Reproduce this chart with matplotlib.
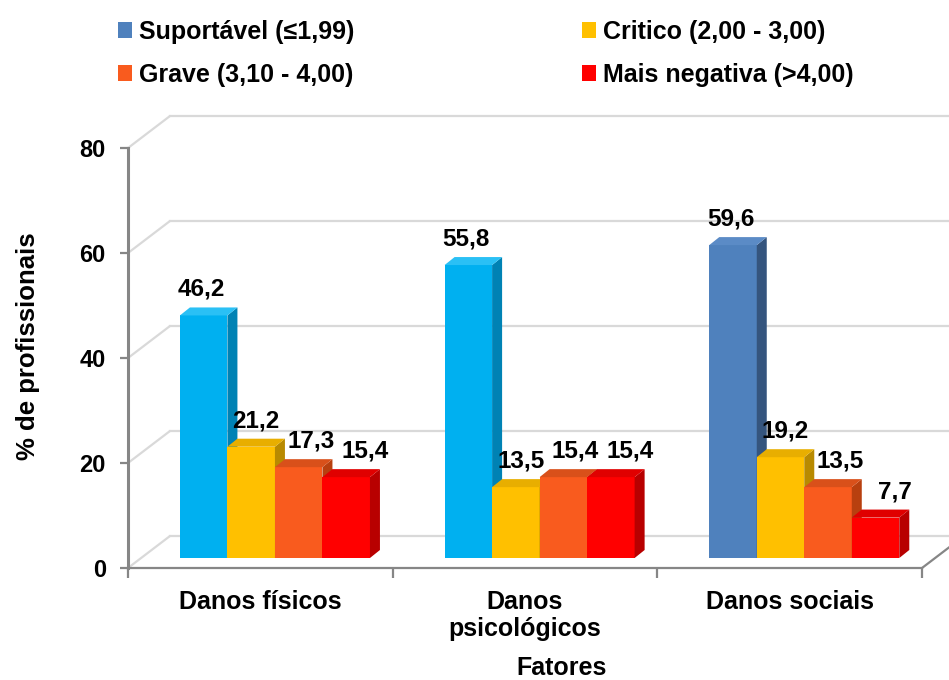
import matplotlib
matplotlib.use("Agg")
import matplotlib.pyplot as plt
from matplotlib.patches import Polygon, Patch, ConnectionPatch
from matplotlib.transforms import ScaledTranslation
import numpy as np

plt.rcParams['font.family'] = ['Liberation Sans', 'DejaVu Sans']
plt.rcParams['font.weight'] = 'bold'

# ---------------- data ----------------
categories = ['Danos físicos', 'Danos\npsicológicos', 'Danos sociais']
series_names = ['Suportável (≤1,99)', 'Critico (2,00 - 3,00)',
                'Grave (3,10 - 4,00)', 'Mais negativa (>4,00)']
suportavel = [46.2, 55.8, 59.6]
critico = [21.2, 13.5, 19.2]
grave = [17.3, 15.4, 13.5]
mais_negativa = [15.4, 15.4, 7.7]
y_ticks = [0, 20, 40, 60, 80]
y_label = '% de profissionais'
x_label = 'Fatores'

series_values = [suportavel, critico, grave, mais_negativa]
# per-bar face colors (front, side, top)
legend_colors = ['#4F81BD', '#FFC000', '#F95B1E', '#FF0000']
front_colors = [['#00B0F0', '#00B0F0', '#4F81BD'],
                ['#FFC000'] * 3, ['#F95B1E'] * 3, ['#FF0000'] * 3]
side_colors = [['#0082B4', '#0082B4', '#35557E'],
               ['#B88A00'] * 3, ['#B8400F'] * 3, ['#B80000'] * 3]
top_colors = [['#2AC0F5', '#2AC0F5', '#5B8BC6'],
              ['#E8AE00'] * 3, ['#D9501A'] * 3, ['#E00000'] * 3]

W, H, DPI = 949, 680, 100
fig = plt.figure(figsize=(W / DPI, H / DPI), dpi=DPI)

# front plane of the 3-D box
x0_px, x1_px, y0_px, y1_px = 128, 922, 568, 148
ax = fig.add_axes([x0_px / W, 1 - y0_px / H, (x1_px - x0_px) / W, (y0_px - y1_px) / H])
ax.set_xlim(0, 3)
ax.set_ylim(0, 80)
px_x = (x1_px - x0_px) / 3.0      # px per x unit
px_y = (y0_px - y1_px) / 80.0     # px per y unit

grid_c = '#D9D9D9'
axis_c = '#868686'

# back wall offset
back = ax.transData + ScaledTranslation(42 / DPI, 32 / DPI, fig.dpi_scale_trans)
for yv in y_ticks:
    ax.plot([0, 3.2], [yv, yv], color=grid_c, lw=1.6, transform=back,
            clip_on=False, zorder=1)
    cp = ConnectionPatch(xyA=(0, yv), coordsA=ax.transData, xyB=(0, yv), coordsB=back,
                         color=grid_c, lw=1.6, zorder=1)
    ax.add_artist(cp)
cp = ConnectionPatch(xyA=(3, 0), coordsA=ax.transData, xyB=(3, 0), coordsB=back,
                     color=axis_c, lw=1.6, zorder=2)
ax.add_artist(cp)

# bars (placed mid-depth)
mid = ax.transData + ScaledTranslation(14.6 / DPI, 10 / DPI, fig.dpi_scale_trans)
w = 0.1795
ddx = 10 / px_x
ddy = 8 / px_y
for i, vals in enumerate(series_values):
    for j, v in enumerate(vals):
        xl = j + 0.5 + (i - 2) * w
        xr = xl + w
        ax.bar(xl, v, width=w, align='edge', color=front_colors[i][j],
               transform=mid, zorder=3 + i, linewidth=0)
        side = Polygon([(xr, 0), (xr, v), (xr + ddx, v + ddy), (xr + ddx, ddy)],
                       closed=True, facecolor=side_colors[i][j], edgecolor='none',
                       transform=mid, zorder=3 + i)
        ax.add_patch(side)
        top = Polygon([(xl, v), (xr, v), (xr + ddx, v + ddy), (xl + ddx, v + ddy)],
                      closed=True, facecolor=top_colors[i][j], edgecolor='none',
                      transform=mid, zorder=3 + i)
        ax.add_patch(top)
        lab_t = ax.transData + ScaledTranslation((14.6 + 7 * i - 2) / DPI, (10 + 26) / DPI,
                                                 fig.dpi_scale_trans)
        ax.text(xl + w / 2, v, f'{v:.1f}'.replace('.', ','), transform=lab_t,
                ha='center', va='center', fontsize=17.5, fontweight='bold', zorder=10)

# axes styling
for s in ['top', 'right']:
    ax.spines[s].set_visible(False)
ax.spines['left'].set_color(axis_c)
ax.spines['left'].set_linewidth(2.2)
ax.spines['bottom'].set_color(axis_c)
ax.spines['bottom'].set_linewidth(1.6)
ax.set_yticks(y_ticks)
ax.set_yticklabels([str(t) for t in y_ticks], fontsize=17, fontweight='bold')
ax.tick_params(axis='y', direction='out', length=6, width=1.6, color=axis_c, pad=10)
ax.set_xticks([0, 1, 2, 3], minor=True)
ax.tick_params(axis='x', which='minor', direction='out', length=7, width=1.6, color=axis_c)
ax.set_xticks([0.5, 1.5, 2.5])
ax.set_xticklabels(categories, fontsize=18, fontweight='bold', linespacing=1.15)
ax.tick_params(axis='x', which='major', length=0, pad=16)
ax.set_facecolor('none')

fig.text(28 / W, 1 - 346 / H, y_label, rotation=90, ha='center', va='center',
         fontsize=18.5, fontweight='bold')
fig.text(562 / W, 1 - 668 / H, x_label, ha='center', va='center',
         fontsize=18, fontweight='bold')

handles = [Patch(facecolor=c, edgecolor='none') for c in legend_colors]
order = [0, 2, 1, 3]
fig.legend([handles[k] for k in order], [series_names[k] for k in order], ncol=2,
           loc='upper left', bbox_to_anchor=(108 / W, 1 - 10 / H), frameon=False,
           prop={'size': 18, 'weight': 'bold'}, handlelength=0.55, handleheight=0.6,
           handletextpad=0.3, columnspacing=9.1, labelspacing=0.75, borderaxespad=0)

fig.savefig('out.png', dpi=DPI)
